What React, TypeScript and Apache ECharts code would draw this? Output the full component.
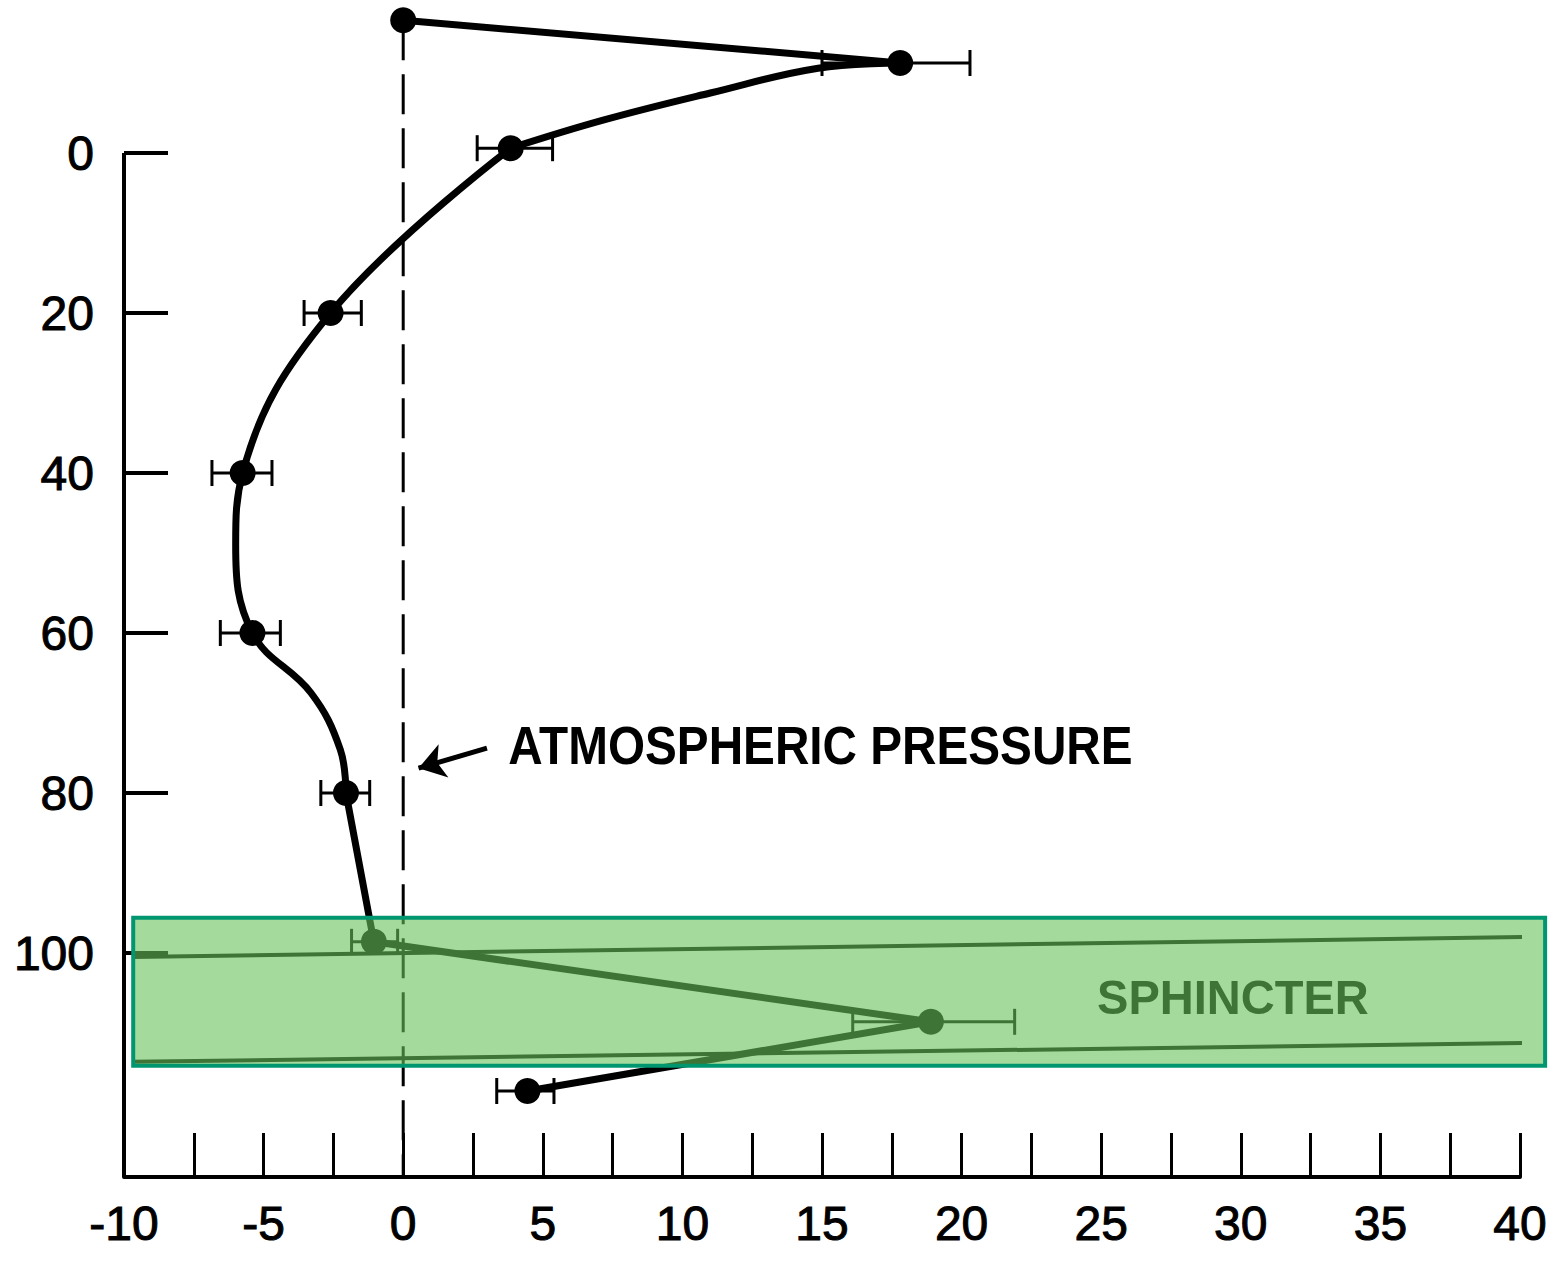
import React, { useEffect, useRef } from "react";
import * as echarts from "echarts";

// ---- axes ----
const xMin = -10;
const xMax = 40;
const xTickStep = 2.5;
const yMin = -19;
const yMax = 128;
const yTickValues = [0, 20, 40, 60, 80, 100];

// ---- measured points (pressure x, distance y) ----
const pointX = [0, 17.8, 3.85, -2.6, -5.75, -5.4, -2.05, -1.05, 18.9, 4.45];
const pointY = [-16.6, -11.25, -0.6, 20, 40, 60, 80, 98.6, 108.6, 117.25];
const errLow = [null, 15.0, 2.65, -3.55, -6.85, -6.55, -2.95, -1.85, 16.1, 3.35];
const errHigh = [null, 20.3, 5.35, -1.5, -4.7, -4.4, -1.2, -0.2, 21.9, 5.4];

// ---- drawn profile ----
const topSegX = [0, 17.8];
const topSegY = [-16.6, -11.25];
const arcX = [17.8, 14.86, 11.0, 7.16, 3.85];
const arcY = [-11.25, -10.6, -7.5, -4.1, -0.6];
const lowerX = [3.85, -2.6, -5.75, -6.0, -5.4, -3.3, -2.25, -2.05];
const lowerY = [-0.6, 20, 40, 49, 60, 67.5, 74.6, 80];
const straightX = [-2.05, -1.05, 18.9, 4.45];
const straightY = [80, 98.6, 108.6, 117.25];

// ---- sphincter boundary lines ----
const bandTopX = [-9.7, 40.3];
const bandTopY = [100.5, 98];
const bandBotX = [-9.7, 40.3];
const bandBotY = [113.6, 111.25];

// ---- atmospheric pressure reference ----
const zeroLineX = [0, 0];
const zeroLineY = [-16.6, 128];
const spineX = [-10, -10];
const spineY = [0, 128];

// ---- annotations (data coords) ----
const sphBoxX = [-9.67, 40.9];
const sphBoxY = [95.6, 114.1];
const sphLabel = "SPHINCTER";
const sphLabelPos = [24.85, 105.5];
const atmLabel = "ATMOSPHERIC PRESSURE";
const atmLabelPos = [3.76, 74.1];
const arrowFrom = [3.0, 74.4];
const arrowTo = [0.55, 76.9];

const FONT = "'Liberation Sans', Arial, sans-serif";

const zip = (xs: number[], ys: number[]) => xs.map((x, i) => [x, ys[i]]);

const profileLine = (xs: number[], ys: number[], smooth: number | boolean) => ({
  type: "line",
  data: zip(xs, ys),
  showSymbol: false,
  smooth,
  clip: false,
  lineStyle: { color: "#000", width: 7, cap: "round", join: "round" },
});

export default function App() {
  const ref = useRef<HTMLDivElement>(null);

  useEffect(() => {
    if (!ref.current) return;
    const chart = echarts.init(ref.current, null, { renderer: "svg" });

    const errData = pointY
      .map((y, i) => (errLow[i] == null ? null : [y, errLow[i], errHigh[i]]))
      .filter((d) => d != null);

    const labelStyle = {
      color: "#000",
      fontSize: 48,
      fontFamily: FONT,
      textBorderColor: "#000",
      textBorderWidth: 1,
    };

    const option: any = {
      animation: false,
      backgroundColor: "#ffffff",
      grid: { left: 124, right: 47, top: 1, bottom: 91, containLabel: false },
      xAxis: {
        type: "value",
        min: xMin,
        max: xMax,
        interval: xTickStep,
        axisLine: { show: true, onZero: false, lineStyle: { color: "#000", width: 4 } },
        axisTick: { show: true, inside: true, length: 44, lineStyle: { color: "#000", width: 3 } },
        axisLabel: {
          ...labelStyle,
          margin: 22,
          formatter: (v: number) => (Math.abs(v % 5) < 1e-9 ? String(v) : ""),
        },
        splitLine: { show: false },
      },
      yAxis: {
        type: "value",
        inverse: true,
        min: yMin,
        max: yMax,
        axisLine: { show: false, onZero: false },
        axisTick: {
          show: true,
          inside: true,
          length: 44,
          customValues: yTickValues,
          lineStyle: { color: "#000", width: 4 },
        },
        axisLabel: {
          ...labelStyle,
          margin: 30,
          customValues: yTickValues,
        },
        splitLine: { show: false },
      },
      series: [
        {
          type: "line",
          data: zip(spineX, spineY),
          showSymbol: false,
          clip: false,
          silent: true,
          lineStyle: { color: "#000", width: 4 },
        },
        {
          type: "line",
          data: zip(zeroLineX, zeroLineY),
          showSymbol: false,
          clip: false,
          silent: true,
          lineStyle: { color: "#000", width: 3, type: [40, 14] },
        },
        profileLine(topSegX, topSegY, false),
        profileLine(arcX, arcY, 0.4),
        profileLine(lowerX, lowerY, 0.4),
        profileLine(straightX, straightY, false),
        {
          type: "line",
          data: zip(bandTopX, bandTopY),
          showSymbol: false,
          clip: false,
          lineStyle: { color: "#000", width: 4 },
        },
        {
          type: "line",
          data: zip(bandBotX, bandBotY),
          showSymbol: false,
          clip: false,
          lineStyle: { color: "#000", width: 4 },
        },
        {
          type: "custom",
          data: errData,
          clip: false,
          renderItem: (params: any, api: any) => {
            const y = api.value(0);
            const lo = api.coord([api.value(1), y]);
            const hi = api.coord([api.value(2), y]);
            const h = 13;
            const st = { stroke: "#000", lineWidth: 3 };
            return {
              type: "group",
              children: [
                { type: "line", shape: { x1: lo[0], y1: lo[1], x2: hi[0], y2: hi[1] }, style: st },
                { type: "line", shape: { x1: lo[0], y1: lo[1] - h, x2: lo[0], y2: lo[1] + h }, style: st },
                { type: "line", shape: { x1: hi[0], y1: hi[1] - h, x2: hi[0], y2: hi[1] + h }, style: st },
              ],
            };
          },
        },
        {
          type: "scatter",
          data: zip(pointX, pointY),
          symbol: "circle",
          symbolSize: 26,
          clip: false,
          itemStyle: { color: "#000", opacity: 1 },
          z: 5,
        },
        {
          type: "line",
          data: [],
          markLine: {
            silent: true,
            symbol: ["none", "arrow"],
            symbolSize: 26,
            label: { show: false },
            lineStyle: { color: "#000", width: 5, type: "solid" },
            data: [[{ coord: arrowFrom }, { coord: arrowTo }]],
          },
        },
      ],
    };

    chart.setOption(option);

    const px = (p: number[]) => chart.convertToPixel({ gridIndex: 0 }, p) as number[];
    const b0 = px([sphBoxX[0], sphBoxY[0]]);
    const b1 = px([sphBoxX[1], sphBoxY[1]]);
    const sp = px(sphLabelPos);
    const ap = px(atmLabelPos);

    chart.setOption({
      graphic: [
        {
          type: "rect",
          z: 100,
          shape: { x: b0[0], y: b0[1], width: b1[0] - b0[0], height: b1[1] - b0[1] },
          style: { fill: "rgba(103,193,90,0.6)", stroke: "#009670", lineWidth: 4 },
        },
        {
          type: "text",
          z: 101,
          x: sp[0],
          y: sp[1],
          scaleX: 0.96,
          style: {
            text: sphLabel,
            fill: "#3e7436",
            fontSize: 49,
            fontWeight: "bold",
            fontFamily: FONT,
            align: "left",
            verticalAlign: "middle",
          },
        },
        {
          type: "text",
          z: 101,
          x: ap[0],
          y: ap[1],
          scaleX: 0.9,
          style: {
            text: atmLabel,
            fill: "#000",
            fontSize: 53,
            fontWeight: "bold",
            fontFamily: FONT,
            align: "left",
            verticalAlign: "middle",
          },
        },
      ],
    });

    return () => chart.dispose();
  }, []);

  return (
    <div
      ref={ref}
      style={{ position: "absolute", left: 0, top: 0, width: 1567, height: 1268 }}
    />
  );
}
